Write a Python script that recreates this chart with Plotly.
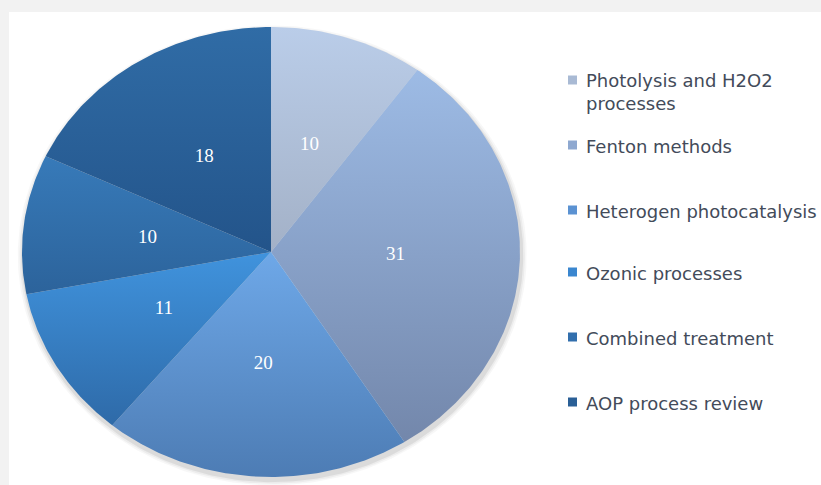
import numpy as np
import plotly.graph_objects as go

# --- data -------------------------------------------------------------
categories = [
    "Photolysis and H2O2<br>processes",
    "Fenton methods",
    "Heterogen photocatalysis",
    "Ozonic processes",
    "Combined treatment",
    "AOP process review",
]
values = [10, 31, 20, 11, 10, 18]

# vertical gradient per slice: (bottom, top)
slice_colors = [
    ("#a3b1c7", "#bacde9"),
    ("#7387ab", "#9dbbe5"),
    ("#4d7cb4", "#6ea8e8"),
    ("#2e6aa8", "#4093dd"),
    ("#2c639b", "#377ab9"),
    ("#23548a", "#306ca6"),
]
legend_colors = ["#a9bad4", "#8ea8d0", "#5b92d2", "#3a86cf", "#326fad", "#2a5f96"]

# --- geometry ---------------------------------------------------------
W, H = 821, 485
cx_px, cy_px = 271, 252      # pie centre in pixels
rx_px, ry_px = 249, 225      # horizontal / vertical radius in pixels

x_range = [-cx_px / rx_px, (W - cx_px) / rx_px]
y_range = [-(H - cy_px) / ry_px, cy_px / ry_px]

fig = go.Figure()

# soft drop shadow behind the pie
t = np.linspace(0, 2 * np.pi, 361)
for k, alpha in [(1.022, 0.03), (1.015, 0.045), (1.008, 0.07)]:
    fig.add_trace(go.Scatter(
        x=k * np.sin(t) + 0.005, y=k * np.cos(t) - 0.015,
        mode="lines", line=dict(width=0), fill="toself",
        fillcolor=f"rgba(0,0,0,{alpha})", hoverinfo="skip", showlegend=False,
    ))

total = sum(values)
start = 0.0
label_x, label_y = [], []
for name, v, (c_bot, c_top) in zip(categories, values, slice_colors):
    a0 = start / total * 2 * np.pi
    a1 = (start + v) / total * 2 * np.pi
    n = max(8, int(v * 6))
    ang = np.linspace(a0, a1, n)
    xs = np.concatenate([[0], np.sin(ang), [0]])
    ys = np.concatenate([[0], np.cos(ang), [0]])
    fig.add_trace(go.Scatter(
        x=xs, y=ys, mode="lines", line=dict(width=0),
        fill="toself",
        fillgradient=dict(type="vertical",
                          colorscale=[[0, c_bot], [1, c_top]]),
        name=name.replace("<br>", " "), hoverinfo="name", showlegend=False,
    ))
    mid = (a0 + a1) / 2
    label_x.append(0.5 * np.sin(mid))
    label_y.append(0.5 * np.cos(mid))
    start += v

# value labels inside slices
fig.add_trace(go.Scatter(
    x=label_x, y=label_y, mode="text",
    text=[str(v) for v in values],
    textfont=dict(family="Liberation Serif", size=19, color="white"),
    hoverinfo="skip", showlegend=False,
))

# --- legend (right side) ---------------------------------------------
row_y_px = [80, 145, 210, 272, 337, 402]
shapes = [dict(type="rect", xref="paper", yref="paper",
               x0=9 / W, x1=1, y0=0, y1=1 - 12 / H,
               fillcolor="white", line=dict(width=0), layer="below")]
annotations = []
for name, col, py in zip(categories, legend_colors, row_y_px):
    shapes.append(dict(type="rect", xref="paper", yref="paper",
                       x0=568 / W, x1=577 / W,
                       y0=1 - (py + 4.5) / H, y1=1 - (py - 4.5) / H,
                       fillcolor=col, line=dict(width=0)))
    annotations.append(dict(
        xref="paper", yref="paper", x=584 / W,
        y=1 - (py - 11.5) / H, xanchor="left", yanchor="top",
        text=name, showarrow=False, align="left",
        font=dict(family="DejaVu Sans", size=18, color="#434b5a"),
    ))

fig.update_layout(
    width=W, height=H,
    margin=dict(l=0, r=0, t=0, b=0, autoexpand=False),
    paper_bgcolor="#f2f2f2", plot_bgcolor="rgba(0,0,0,0)",
    xaxis=dict(range=x_range, visible=False, fixedrange=True),
    yaxis=dict(range=y_range, visible=False, fixedrange=True),
    shapes=shapes, annotations=annotations, showlegend=False,
)

fig.write_html("out.html")
